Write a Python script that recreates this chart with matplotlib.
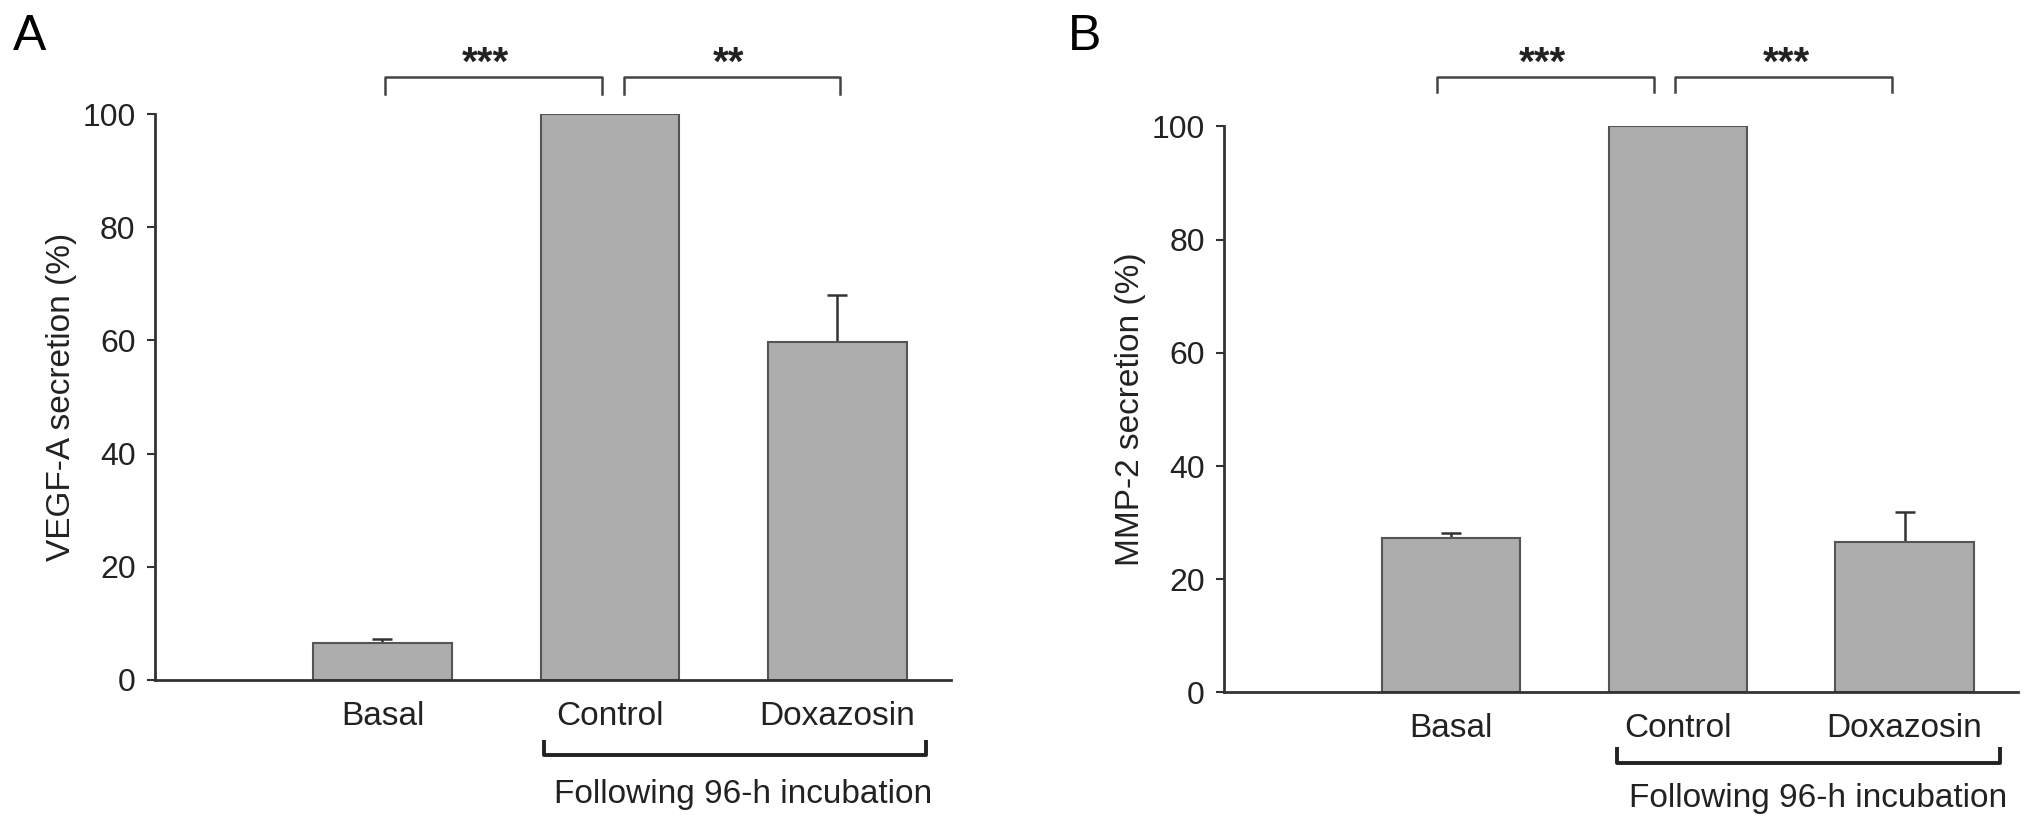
import matplotlib
matplotlib.use("Agg")
import matplotlib.pyplot as plt

plt.rcParams["font.family"] = ["Liberation Sans", "DejaVu Sans"]

# ---- data ----
categories = ["Basal", "Control", "Doxazosin"]
vegf_mean = [6.5, 100.0, 59.7]
vegf_err = [0.7, 0.0, 8.3]
mmp2_mean = [27.3, 100.0, 26.5]
mmp2_err = [0.9, 0.0, 5.3]

vegf_stars = ["***", "**"]
mmp2_stars = ["***", "***"]
group_label = "Following 96-h incubation"

BAR = "#adadad"
EDGE = "#555555"
INK = "#222222"

fig = plt.figure(figsize=(20.32, 8.33), dpi=100)


def panel(rect, means, errs, ylabel, stars, sig_x, sig_y, grp, letter, letter_x):
    ax = fig.add_axes(rect)
    x = [1, 2, 3]
    ax.bar(x, means, width=0.61, color=BAR, edgecolor=EDGE, linewidth=1.5, zorder=2)
    err_x = [xi for xi, e in zip(x, errs) if e > 0]
    err_m = [m for m, e in zip(means, errs) if e > 0]
    err_e = [e for e in errs if e > 0]
    ax.errorbar(err_x, err_m, yerr=[[0] * len(err_e), err_e], fmt="none",
                ecolor="#333333", elinewidth=1.8, capsize=7, capthick=1.8, zorder=1)

    ax.set_xlim(0, 3.5)
    ax.set_ylim(0, 100)
    ax.set_yticks([0, 20, 40, 60, 80, 100])
    ax.set_xticks(x)
    ax.set_xticklabels(categories, fontsize=24, color=INK)
    ax.tick_params(axis="x", length=0, pad=15)
    ax.tick_params(axis="y", length=6, width=1.5, pad=8, labelsize=23,
                   colors="#333333", labelcolor=INK)
    for s in ["top", "right"]:
        ax.spines[s].set_visible(False)
    for s in ["left", "bottom"]:
        ax.spines[s].set_linewidth(2)
        ax.spines[s].set_color("#333333")
    ax.set_ylabel(ylabel, fontsize=24, color=INK, labelpad=4)

    # significance brackets
    top, leg = sig_y
    for (x0, x1), st, sx in zip(sig_x[0], stars, sig_x[1]):
        ax.plot([x0, x0, x1, x1], [leg, top, top, leg], color="#444444",
                lw=1.8, clip_on=False, solid_joinstyle="round")
        ax.text(sx, top + 0.4, st, fontsize=29, fontweight="bold", ha="center",
                va="baseline", color=INK, clip_on=False)

    # group bracket under Control / Doxazosin
    gx0, gx1, gy, gleg, tx, ty = grp
    ax.plot([gx0, gx0, gx1, gx1], [gleg, gy, gy, gleg], color=INK, lw=2.8,
            clip_on=False, solid_capstyle="butt")
    ax.text(tx, ty, group_label, fontsize=24, ha="left", va="baseline",
            color=INK, clip_on=False)

    fig.text(letter_x, 0.94, letter, fontsize=36, color="black", ha="left",
             va="baseline")
    return ax


panel([0.0763, 0.1837, 0.3917, 0.6794], vegf_mean, vegf_err,
      "VEGF-A secretion (%)", vegf_stars,
      ([(1.013, 1.965), (2.06, 3.01)], [1.454, 2.52]), (106.5, 103.6),
      (1.709, 3.388, -13.25, -10.6, 1.753, -21.7), "A", 0.0064)

panel([0.6024, 0.1687, 0.3907, 0.6795], mmp2_mean, mmp2_err,
      "MMP-2 secretion (%)", mmp2_stars,
      ([(0.938, 1.894), (1.987, 2.943)], [1.405, 2.48]), (108.8, 106.0),
      (1.731, 3.419, -12.4, -9.7, 1.784, -20.3), "B", 0.5256)

fig.savefig("out.png", dpi=100, facecolor="white")
